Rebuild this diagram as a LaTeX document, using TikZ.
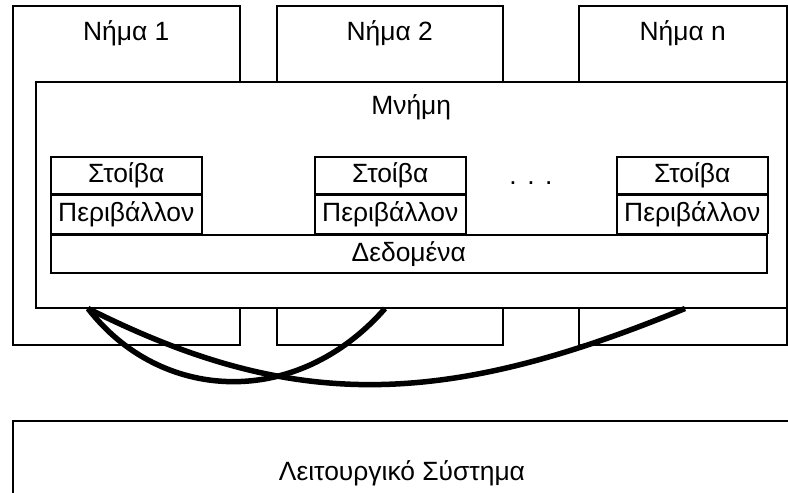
\documentclass[tikz,border=0pt]{standalone}
\usepackage{fontspec}
\setmainfont{Liberation Sans}

\begin{document}
\begin{tikzpicture}
[x=1pt,y=-1pt,
  boxDecorate/.style={shape=rectangle,draw,line width=1.5pt,anchor=north west,inner sep=0pt,fill=white},%
  labelDecorate/.style={font=\fontsize{26.4}{31}\selectfont},
  curveDecorate/.style={line width=5.5pt}]
\useasboundingbox (0,0) rectangle (788,493);
%% threads
\foreach \nodename/\x/\w/\txt in {
  th1/12/227/Νήμα 1,
  th2/276/226/Νήμα 2,
  thn/578/208/Νήμα n}
{
  \node (\nodename) at (\x,5) [boxDecorate,minimum width=\w pt,minimum height=339pt] {};
  \node (\nodename-text) at ([yshift=-28pt]\nodename.north) [labelDecorate] {\txt};
}
%% memory
\node (mem) at (35,81) [boxDecorate,minimum width=751pt,minimum height=226pt] {};
\node (mem-text) at ([yshift=-26pt]mem.north) [labelDecorate] {Μνήμη};
\foreach \nodename/\x in {st1/50, st2/314, stn/616}
{
  \node (\nodename) at (\x,156) [boxDecorate,labelDecorate,minimum width=151pt,minimum height=37pt] {Στοίβα};
  \node (\nodename-env) at (\nodename.south west) [boxDecorate,labelDecorate,minimum width=151pt,minimum height=38pt] {Περιβάλλον};
}
\node (dots) at (531,183) [labelDecorate] {.\hspace{0.4em}.\hspace{0.4em}.};
\node (data) at (st1-env.south west) [boxDecorate,labelDecorate,minimum width=716pt,minimum height=38pt] {Δεδομένα};
%% operating system
\node (os) at (12,420) [boxDecorate,minimum width=780pt,minimum height=100pt] {};
\node (os-text) at (402,473) [labelDecorate] {Λειτουργικό Σύστημα};
%% links
\coordinate (c0) at ([xshift=53pt]mem.south west);
\coordinate (c1) at ([xshift=350pt]mem.south west);
\coordinate (c2) at ([xshift=650pt]mem.south west);
\draw[curveDecorate] (c0) .. controls (160,402) and (296,410) .. (c1);
\draw[curveDecorate] (c0) .. controls (290,410) and (439,410) .. (c2);
\end{tikzpicture}
\end{document}
